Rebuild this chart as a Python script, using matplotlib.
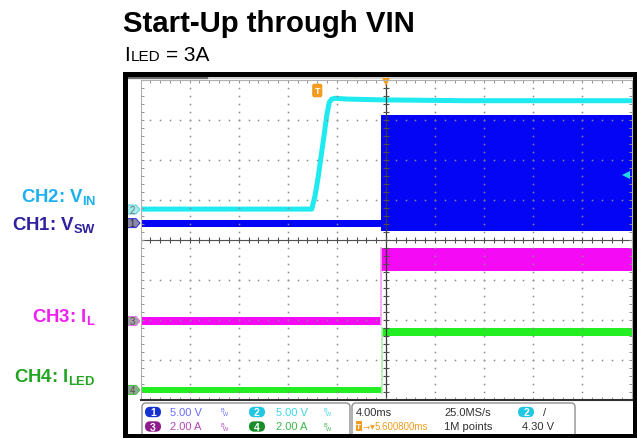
import numpy as np
import matplotlib.pyplot as plt
from matplotlib.patches import Polygon, FancyBboxPatch, Rectangle
from matplotlib.transforms import blended_transform_factory

plt.rcParams['font.family'] = ['Liberation Sans', 'DejaVu Sans']
plt.rcParams['mathtext.fontset'] = 'custom'
plt.rcParams['mathtext.rm'] = 'Liberation Sans'
plt.rcParams['mathtext.bf'] = 'Liberation Sans:bold'

# scope settings
time_per_div = 4.0      # ms/div
delay = 5.6008          # ms, trigger -> screen centre
trig_level = 4.30       # V on CH2

# CH2: VIN (V) vs time (ms)
vin_t = [-14.5, -0.45, -0.18, 0.09, 0.36, 0.55, 0.77, 0.98, 1.18, 1.45, 2.5, 5.5, 12.0, 25.7]
vin_v = [0.05, 0.05, 1.7, 4.2, 7.15, 9.2, 11.7, 13.4, 13.8, 13.9, 13.8, 13.7, 13.6, 13.6]

# CH1: VSW envelope (V)
vsw_t = [-14.5, 5.19, 5.19, 25.7]
vsw_lo = [-0.45, -0.45, -1.0, -1.0]
vsw_hi = [0.45, 0.45, 13.5, 13.5]

# CH3: IL envelope (A)
il_t = [-14.5, 5.2, 5.2, 25.7]
il_lo = [-0.2, -0.2, 2.5, 2.5]
il_hi = [0.2, 0.2, 3.65, 3.65]

# CH4: ILED envelope (A)
iled_t = [-14.5, 5.25, 5.25, 25.7]
iled_lo = [-0.17, -0.17, 2.7, 2.7]
iled_hi = [0.17, 0.17, 3.1, 3.1]

# channel: scale per div, ground position (div from bottom)
ch_scale = {1: 5.0, 2: 5.0, 3: 2.0, 4: 2.0}
ch_ground = {1: 4.41, 2: 4.75, 3: 1.96, 4: 0.24}
ch_color = {1: '#0505f5', 2: '#1eeaf0', 3: '#f50af5', 4: '#22ee22'}

W, H = 637, 439
fig = plt.figure(figsize=(W / 100, H / 100), dpi=100)
bg = fig.add_axes([0, 0, 1, 1], label='bg')
bg.set_xlim(0, W)
bg.set_ylim(H, 0)
bg.axis('off')

# graticule position in pixels
gx0, gx1, gy0, gy1 = 140.5, 631.5, 80.5, 400.5
div_px = (gy1 - gy0) / 8
rect = [gx0 / W, 1 - gy1 / H, (gx1 - gx0) / W, (gy1 - gy0) / H]
t_left = delay - 5 * time_per_div
t_right = delay + 5 * time_per_div

# titles
bg.text(123, 31.5, 'Start-Up through VIN', fontsize=21.2, fontweight='bold', va='baseline')
bg.text(124, 61, 'I', fontsize=15, va='baseline')
bg.text(131, 61, 'LED', fontsize=11, va='baseline')
bg.text(166, 61, '= 3A', fontsize=15, va='baseline')

# channel labels
lab_kw = dict(ha='right', va='baseline', fontsize=13.4, fontweight='bold')
bg.text(96, 203, r'CH2: V$_\mathbf{IN}$', color='#1cb0ee', **lab_kw)
bg.text(96, 231, r'CH1: V$_\mathbf{SW}$', color='#2e209e', **lab_kw)
bg.text(96, 323, r'CH3: I$_\mathbf{L}$', color='#f01ef0', **lab_kw)
bg.text(96, 383, r'CH4: I$_\mathbf{LED}$', color='#22a522', **lab_kw)


def ch_axes(n):
    ax = fig.add_axes(rect, label=f'ch{n}')
    ax.set_xlim(t_left, t_right)
    s, g = ch_scale[n], ch_ground[n]
    ax.set_ylim(-g * s, (8 - g) * s)
    ax.axis('off')
    ax.patch.set_alpha(0)
    return ax


ax1 = ch_axes(1)
ax1.fill_between(vsw_t, vsw_lo, vsw_hi, color=ch_color[1], lw=0)

ax2 = ch_axes(2)
ax2.plot(vin_t, vin_v, color=ch_color[2], lw=3.6, solid_joinstyle='round')
tr = blended_transform_factory(ax2.transAxes, ax2.transData)
ax2.plot([0.988], [trig_level], transform=tr, marker='<', ms=6, color='#1ed8e8', mew=0)

ax3 = ch_axes(3)
ax3.fill_between(il_t, il_lo, il_hi, color=ch_color[3], lw=0)
ax3.plot([il_t[1], il_t[2]], [il_lo[1], il_hi[2]], color='#f5a0f5', lw=1.2)

ax4 = ch_axes(4)
ax4.fill_between(iled_t, iled_lo, iled_hi, color=ch_color[4], lw=0)
ax4.plot([iled_t[1], iled_t[2]], [iled_lo[1], iled_hi[2]], color='#a8f0a8', lw=1.2)

# graticule on top
grat = fig.add_axes(rect, label='grat')
grat.set_xlim(t_left, t_right)
grat.set_ylim(-4, 4)
grat.patch.set_alpha(0)
grat.set_xticks([])
grat.set_yticks([])
for side in ['top', 'left', 'right']:
    grat.spines[side].set_color('#b0b0b0')
    grat.spines[side].set_linewidth(0.8)
grat.spines['bottom'].set_color('#303030')
grat.spines['bottom'].set_linewidth(1.5)

dot_c = '#8a8a8a'
minor_x = t_left + np.arange(0, 51) * time_per_div / 5
minor_y = np.arange(-20, 21) / 5
for k in range(1, 10):
    if k == 5:
        continue
    xk = t_left + k * time_per_div
    grat.plot(np.full_like(minor_y, xk), minor_y, ls='none', marker='s', ms=1.1, mew=0, color=dot_c)
for j in range(-3, 4):
    if j == 0:
        continue
    grat.plot(minor_x, np.full_like(minor_x, j), ls='none', marker='s', ms=1.1, mew=0, color=dot_c)

cross_c = '#505050'
grat.axvline(delay, color='#383838', lw=0.9)
grat.axhline(0, color=cross_c, lw=0.8)
grat.plot(minor_x, np.zeros_like(minor_x), ls='none', marker='|', ms=4.5, mew=0.8, color=cross_c)
grat.plot(np.full_like(minor_y, delay), minor_y, ls='none', marker='_', ms=4.5, mew=0.8, color=cross_c)
# edge ticks (clipped to half)
edge_c = '#909090'
grat.plot(minor_x, np.full_like(minor_x, 4), ls='none', marker='|', ms=5, mew=0.7, color=edge_c)
grat.plot(minor_x, np.full_like(minor_x, -4), ls='none', marker='|', ms=5, mew=0.7, color=edge_c)
grat.plot(np.full_like(minor_y, t_left), minor_y, ls='none', marker='_', ms=5, mew=0.7, color=edge_c)
grat.plot(np.full_like(minor_y, t_right), minor_y, ls='none', marker='_', ms=5, mew=0.7, color=edge_c)

orange = '#f39c1f'
grat.text(0, 4 - 11 / div_px, 'T', color='white', fontsize=6.5, fontweight='bold', ha='center',
          va='center', bbox=dict(boxstyle='round,pad=0.18', fc=orange, ec=orange))
grat.plot([delay], [4 - 2.5 / div_px], marker='v', ms=6, color=orange, mew=0, clip_on=False)

# ground markers on left
mk_style = {1: ('#8a8aa6', '#2a2ae0', '#303040'), 2: ('#a4ecee', '#5ad0d8', '#707070'),
            3: ('#a8a0a8', '#e070e0', '#505050'), 4: ('#90a890', '#40c040', '#505050')}
for n in [1, 2, 3, 4]:
    gy = gy1 - ch_ground[n] * div_px
    fc, ec, tc = mk_style[n]
    bg.add_patch(Polygon([(127.5, gy - 4.5), (136, gy - 4.5), (140, gy), (136, gy + 4.5), (127.5, gy + 4.5)],
                         closed=True, fc=fc, ec=ec, lw=0.7, zorder=3))
    bg.text(132.5, gy + 0.3, str(n), color=tc, fontsize=7, ha='center', va='center', zorder=4)

# record bar at top
bg.plot([127, 632], [78.5, 78.5], color='#c8c8c8', lw=1.2)
bg.plot([127, 207], [78.5, 78.5], color='#6e6e6e', lw=1.6)
bg.add_patch(Rectangle((354, 76.5), 4, 2.5, fc=orange, ec='none'))

# status bar
for x0, x1 in [(142, 350), (352, 575)]:
    bg.add_patch(FancyBboxPatch((x0, 404), x1 - x0, 40, boxstyle='round,pad=0,rounding_size=4',
                                fc='white', ec='#909090', lw=1))


def pill(cx, cy, txt, fc):
    bg.add_patch(FancyBboxPatch((cx - 8, cy - 5.2), 16, 10.4, boxstyle='round,pad=0,rounding_size=5.2',
                                fc=fc, ec='none', zorder=3))
    bg.text(cx, cy + 0.5, txt, color='white', fontsize=7.5, fontweight='bold', ha='center', va='center',
            zorder=4)


def bw(cx, cy, c):
    bg.text(cx - 1.2, cy - 2, 'B', color=c, fontsize=4, ha='center', va='center')
    bg.text(cx + 1.2, cy + 1.8, 'W', color=c, fontsize=4, ha='center', va='center')


r1, r2 = 413, 427.5
pill(153, r1, '1', '#1432d2')
pill(153, r2, '3', '#8e1c8e')
pill(257, r1, '2', '#22c8e2')
pill(257, r2, '4', '#1a8c2a')
st_kw = dict(fontsize=8, va='center')
bg.text(170.5, r1, '5.00 V', color='#6b6bff', **st_kw)
bg.text(170.5, r2, '2.00 A', color='#b548b5', **st_kw)
bg.text(275.5, r1, '5.00 V', color='#3cd6e6', **st_kw)
bg.text(275.5, r2, '2.00 A', color='#3cb84c', **st_kw)
bw(224, r1, '#6b6bff')
bw(224, r2, '#b548b5')
bw(327, r1, '#3cd6e6')
bw(327, r2, '#3cb84c')

dark = '#303030'
bg.text(356, r1, '4.00ms', color=dark, **st_kw)
bg.text(444, r1, '25.0MS/s', color=dark, **st_kw)
bg.text(444, r2, '1M points', color=dark, **st_kw)
bg.text(522, r2, '4.30 V', color=dark, **st_kw)
pill(526, r1, '2', '#22c8e2')
bg.text(543, r1, '/', color=dark, fontsize=8, va='center')
bg.add_patch(Rectangle((355.5, r2 - 5), 6.5, 10, fc=orange, ec='none'))
bg.text(358.8, r2 + 0.3, 'T', color='white', fontsize=6, fontweight='bold', ha='center', va='center')
bg.text(362.5, r2, '→', color=orange, fontsize=6, va='center', family='DejaVu Sans')
bg.text(369.5, r2, '▼', color=orange, fontsize=4.5, va='center', family='DejaVu Sans')
bg.text(375, r2, '5.600800ms', color=orange, fontsize=7, va='center')

# outer black frame
bg.add_patch(Rectangle((124.5, 75), 510, 361.5, fill=False, ec='black', lw=3.6, zorder=5))

fig.savefig('out.png', dpi=100)
